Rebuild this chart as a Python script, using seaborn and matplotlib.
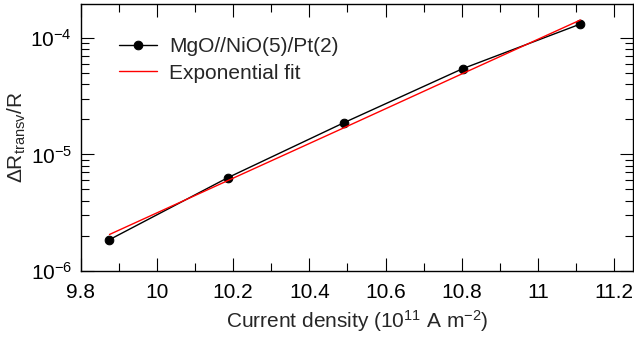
import numpy as np
import pandas as pd
import matplotlib
matplotlib.use("Agg")
import matplotlib.pyplot as plt
import matplotlib.ticker as mticker
import seaborn as sns

# Data
current_density = [9.876, 10.186, 10.492, 10.802, 11.111]
dr_over_r = [1.85e-6, 6.3e-6, 1.88e-5, 5.45e-5, 1.32e-4]
fit_values = [2.05e-6, 5.95e-6, 1.70e-5, 4.95e-5, 1.43e-4]
series_label = "MgO//NiO(5)/Pt(2)"
fit_label = "Exponential fit"

sns.set_style("ticks")
plt.rcParams["font.family"] = ["Liberation Sans", "DejaVu Sans"]
plt.rcParams["mathtext.fontset"] = "custom"
plt.rcParams["mathtext.rm"] = "Liberation Sans"
plt.rcParams["mathtext.it"] = "Liberation Sans:italic"
plt.rcParams["mathtext.default"] = "regular"

FS = 15

df = pd.DataFrame({"x": current_density, "y": dr_over_r})
df_fit = pd.DataFrame({"x": current_density, "y": fit_values})

fig = plt.figure(figsize=(6.34, 3.38), dpi=100)
ax = fig.add_axes([0.127, 0.199, 0.872, 0.789])

sns.lineplot(data=df, x="x", y="y", ax=ax, color="black", marker="o",
             markersize=6.2, markeredgecolor="black", linewidth=1.0,
             label=series_label)
sns.lineplot(data=df_fit, x="x", y="y", ax=ax, color="red", linewidth=1.0,
             label=fit_label)

ax.set_yscale("log")
ax.set_xlim(9.8, 11.25)
ax.set_ylim(1e-6, 1.96e-4)
ax.xaxis.set_major_locator(mticker.MultipleLocator(0.2))
ax.xaxis.set_minor_locator(mticker.MultipleLocator(0.1))
ax.xaxis.set_major_formatter(mticker.FuncFormatter(lambda v, p: f"{v:g}"))
ax.yaxis.set_major_locator(mticker.LogLocator(base=10, numticks=10))
ax.yaxis.set_minor_locator(mticker.LogLocator(base=10, subs=np.arange(2, 10), numticks=20))
ax.yaxis.set_minor_formatter(mticker.NullFormatter())

ax.tick_params(which="both", direction="in", top=True, right=True,
               width=0.8, labelsize=FS, color="black", labelcolor="black")
ax.tick_params(which="major", length=9.5)
ax.tick_params(axis="x", which="major", pad=9)
ax.tick_params(axis="y", which="major", pad=6)
ax.tick_params(which="minor", length=6)
for s in ax.spines.values():
    s.set_linewidth(1.0)
    s.set_color("black")

ax.set_xlabel("Current density (10$^{11}$ A m$^{-2}$)", fontsize=FS, labelpad=4)
ax.set_ylabel(r"$\Delta$R$_{\mathrm{transv}}$/R", fontsize=FS, labelpad=2)

leg = ax.legend(loc="upper left", bbox_to_anchor=(0.07, 0.875), frameon=False,
                fontsize=FS, handlelength=1.8, handletextpad=0.6,
                labelspacing=0.35, borderaxespad=0, borderpad=0)

fig.savefig("out.png", dpi=100)
